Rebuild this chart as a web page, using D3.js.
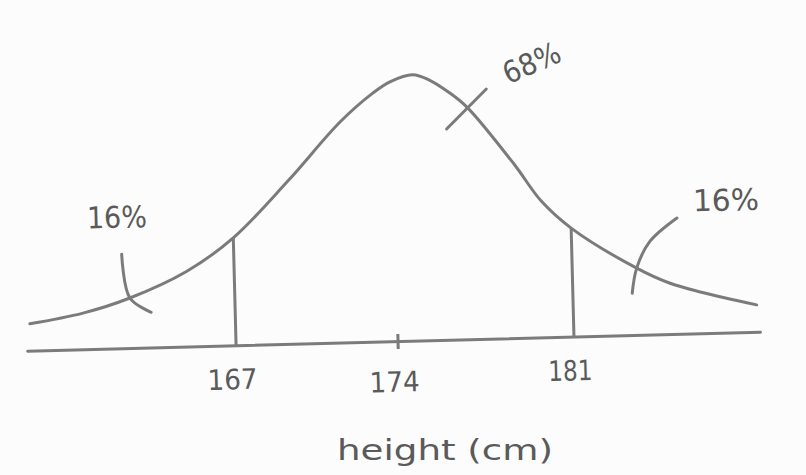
<!DOCTYPE html>
<html>
<head>
<meta charset="utf-8">
<script src="https://cdn.jsdelivr.net/npm/d3@7"></script>
<style>
  body { margin: 0; background: #fcfcfc; }
  svg { display: block; }
  text { font-family: "DejaVu Sans Condensed", "DejaVu Sans", sans-serif; fill: #5a5a5a; }
</style>
</head>
<body>
<svg id="chart" width="806" height="475"></svg>
<script>
// the sketched bell curve: height (cm) against relative frequency
var heights = [157.95, 160.3, 162.38, 164.9, 167.0, 169.43, 171.74, 173.2, 173.94, 174.86, 175.53, 176.3, 177.0, 178.8, 179.84, 181.0, 183.53, 184.8, 186.0, 188.2];
var density = [0.0058, 0.0078, 0.0108, 0.0162, 0.0232, 0.0352, 0.0476, 0.0537, 0.0560, 0.0574, 0.0561, 0.0533, 0.0500, 0.0375, 0.0294, 0.0234, 0.0144, 0.0110, 0.0089, 0.0058];

// x axis
var tickValues = [167, 174, 181];
var cuts = [167, 181];          // one sd either side of the mean
var axisTitle = "height (cm)";

// share labels and their little pointer strokes
var notes = ["16%", "68%", "16%"];
var noteAt = [[161.9, 0.0283], [179.6, 0.0593], [187.1, 0.0286]];
var pointers = [
	[[162.07, 0.0203], [162.38, 0.0108], [163.3, 0.0076]],
	[[177.77, 0.0539], [176.15, 0.0455]],
	[[185.16, 0.0250], [184.06, 0.0200], [183.53, 0.0144], [183.33, 0.0090]]
];

var ink = "#7b7b7b";
var svg = d3.select("#chart");

// the hand drawing is tilted slightly, so the whole sketch sits in a rotated group
var g = svg.append("g").attr("transform", "rotate(-1.49,400,340)");

// hand-drawn axis is not evenly spaced, so the scale is piecewise
var x = d3.scaleLinear()
	.domain([157.8, 167, 174, 181, 188.3])
	.range([27, 236, 398, 574, 760]);

var y = d3.scaleLinear()
	.domain([0, 0.06])
	.range([341, 63.1]);

var pts = heights.map(function(h, i) { return [h, density[i]]; });

var line = d3.line()
	.x(function(d) { return x(d[0]); })
	.y(function(d) { return y(d[1]); })
	.curve(d3.curveCatmullRom.alpha(0.5));

// baseline / axis
var axis = g.append("g")
	.attr("transform", "translate(0," + y(0) + ")")
	.call(d3.axisBottom(x).tickValues(tickValues).tickSize(0).tickSizeOuter(0).tickPadding(24).tickFormat(d3.format("d")));

axis.select(".domain")
	.attr("stroke", ink)
	.attr("stroke-width", 3)
	.attr("stroke-linecap", "round");

axis.selectAll(".tick text")
	.attr("font-size", 28)
	.attr("dx", -5)
	.attr("textLength", function(d) { return d == 181 ? 44 : 50; })
	.attr("lengthAdjust", "spacingAndGlyphs")
	.attr("dy", function(d) { return d == 174 ? "0.95em" : "0.71em"; });

// little tick mark at the mean
g.append("line")
	.attr("x1", x(174)).attr("x2", x(174))
	.attr("y1", y(0) - 7).attr("y2", y(0) + 8)
	.attr("stroke", ink)
	.attr("stroke-width", 3);

// verticals at one sd
g.selectAll(".cut")
	.data(cuts)
	.enter()
		.append("line")
			.attr("class", "cut")
			.attr("x1", function(d) { return x(d); })
			.attr("x2", function(d) { return x(d); })
			.attr("y1", function(d) { return y(density[heights.indexOf(d)]); })
			.attr("y2", y(0))
			.attr("stroke", ink)
			.attr("stroke-width", 3);

// the curve
g.append("path")
	.datum(pts)
	.attr("d", line)
	.attr("fill", "none")
	.attr("stroke", ink)
	.attr("stroke-width", 3)
	.attr("stroke-linecap", "round");

// pointer strokes
g.selectAll(".pointer")
	.data(pointers)
	.enter()
		.append("path")
			.attr("class", "pointer")
			.attr("d", line)
			.attr("fill", "none")
			.attr("stroke", ink)
			.attr("stroke-width", 3)
			.attr("stroke-linecap", "round");

// share labels
g.selectAll(".note")
	.data(notes)
	.enter()
		.append("text")
			.attr("class", "note")
			.attr("font-size", 30)
			.attr("text-anchor", "middle")
			.attr("dominant-baseline", "central")
			.attr("textLength", function(d, i) { return i == 2 ? 66 : 60; })
			.attr("lengthAdjust", "spacingAndGlyphs")
			.attr("transform", function(d, i) {
				var p = noteAt[i];
				var t = "translate(" + x(p[0]) + "," + y(p[1]) + ")";
				if(i == 1) {
					t += " rotate(-22)";
				}
				return t;
			})
			.text(function(d) { return d; });

// axis title
svg.append("text")
	.attr("x", 445)
	.attr("y", 450)
	.attr("font-size", 28)
	.attr("text-anchor", "middle")
	.attr("dominant-baseline", "central")
	.attr("textLength", 216)
	.attr("lengthAdjust", "spacingAndGlyphs")
	.text(axisTitle);
</script>
</body>
</html>
